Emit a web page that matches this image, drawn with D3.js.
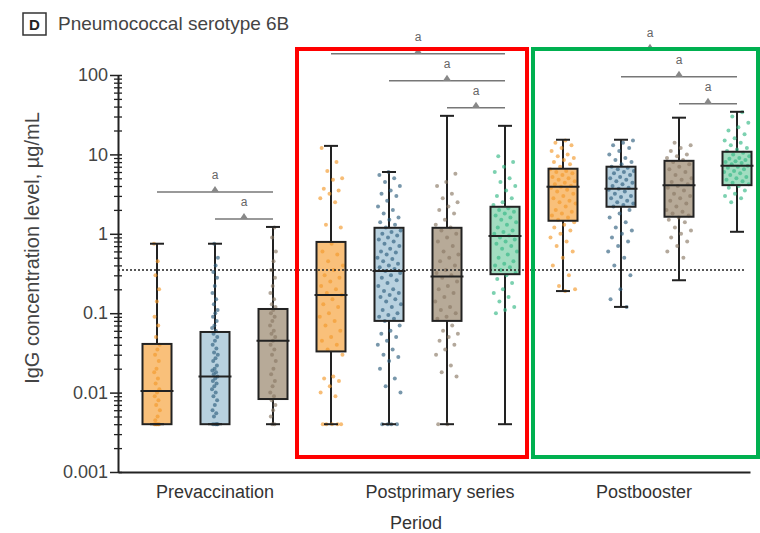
<!DOCTYPE html>
<html>
<head>
<meta charset="utf-8">
<script src="https://cdn.jsdelivr.net/npm/d3@7"></script>
<style>
  body { margin: 0; background: #fff; }
  text { font-family: "Liberation Sans", Arial, sans-serif; }
</style>
</head>
<body>
<script>
const svgWidth = 760
const svgHeight = 533

// data
const periods = ["Prevaccination", "Postprimary series", "Postbooster"]
const boxPeriod = [0, 0, 0, 1, 1, 1, 1, 2, 2, 2, 2]
const boxGroup = [0, 1, 2, 0, 1, 2, 3, 0, 1, 2, 3]
const whiskerLow = [0.004, 0.004, 0.004, 0.004, 0.004, 0.004, 0.004, 0.19, 0.12, 0.26, 1.06]
const q1 = [0.004, 0.004, 0.0083, 0.033, 0.08, 0.08, 0.31, 1.46, 2.19, 1.64, 4.1]
const medians = [0.0105, 0.016, 0.045, 0.17, 0.34, 0.29, 0.94, 3.9, 3.7, 4.1, 7.2]
const q3 = [0.041, 0.058, 0.113, 0.79, 1.19, 1.19, 2.19, 6.6, 7.0, 8.3, 10.8]
const whiskerHigh = [0.75, 0.75, 1.22, 12.8, 6.0, 30.6, 22.9, 15.3, 15.3, 29, 34.4]

const prevOrange = [0.75, 0.45, 0.3, 0.2, 0.14, 0.09, 0.07, 0.05, 0.04, 0.035, 0.03, 0.025, 0.02, 0.018, 0.015, 0.013, 0.011, 0.01, 0.009, 0.008, 0.007, 0.006, 0.005, 0.0045, 0.004, 0.004, 0.004, 0.004, 0.004]
const prevBlue = [0.75, 0.5, 0.4, 0.33, 0.28, 0.22, 0.18, 0.15, 0.13, 0.11, 0.1, 0.09, 0.08, 0.07, 0.065, 0.06, 0.055, 0.05, 0.045, 0.04, 0.036, 0.032, 0.03, 0.027, 0.025, 0.022, 0.02, 0.019, 0.018, 0.017, 0.016, 0.015, 0.014, 0.013, 0.012, 0.011, 0.01, 0.009, 0.008, 0.007, 0.006, 0.0055, 0.005, 0.004, 0.004, 0.004, 0.004]
const prevGray = [1.2, 0.9, 0.6, 0.45, 0.35, 0.28, 0.22, 0.18, 0.15, 0.13, 0.12, 0.11, 0.1, 0.09, 0.08, 0.07, 0.06, 0.055, 0.05, 0.045, 0.04, 0.035, 0.03, 0.025, 0.02, 0.017, 0.014, 0.012, 0.01, 0.009, 0.008, 0.007, 0.006, 0.005, 0.004, 0.004]
const postOrange = [12, 8, 6.2, 5, 4.8, 3.7, 3.5, 3.2, 2.8, 2.5, 1.3, 1.2, 0.75, 0.6, 0.55, 0.45, 0.4, 0.35, 0.3, 0.28, 0.25, 0.22, 0.2, 0.18, 0.17, 0.15, 0.13, 0.12, 0.1, 0.09, 0.08, 0.07, 0.06, 0.05, 0.045, 0.04, 0.035, 0.03, 0.016, 0.015, 0.014, 0.012, 0.01, 0.009, 0.004, 0.004, 0.004, 0.004, 0.004]
const postBlue = [6, 5.5, 5, 4.5, 4, 3.5, 3.2, 3, 2.6, 2.2, 2, 1.8, 1.6, 1.5, 1.4, 1.3, 1.2, 1.1, 1.05, 1, 0.95, 0.9, 0.85, 0.8, 0.75, 0.7, 0.65, 0.6, 0.58, 0.55, 0.5, 0.48, 0.45, 0.42, 0.4, 0.38, 0.36, 0.34, 0.32, 0.3, 0.28, 0.26, 0.24, 0.22, 0.2, 0.19, 0.18, 0.17, 0.16, 0.15, 0.14, 0.13, 0.12, 0.11, 0.1, 0.095, 0.09, 0.085, 0.08, 0.07, 0.06, 0.055, 0.05, 0.045, 0.04, 0.035, 0.03, 0.028, 0.025, 0.02, 0.015, 0.012, 0.01, 0.004, 0.004, 0.004, 0.004]
const postGray = [5.7, 4.5, 4, 3.2, 2.8, 2.5, 2.2, 2, 1.8, 1.5, 1.3, 1.2, 1.1, 1, 0.9, 0.8, 0.7, 0.6, 0.55, 0.5, 0.45, 0.4, 0.35, 0.32, 0.3, 0.28, 0.25, 0.22, 0.2, 0.18, 0.16, 0.14, 0.12, 0.11, 0.1, 0.09, 0.085, 0.07, 0.06, 0.055, 0.05, 0.045, 0.04, 0.035, 0.03, 0.022, 0.018, 0.016, 0.004, 0.004]
const postGreen = [9.5, 8, 7, 6, 5, 4.5, 4, 3.5, 3, 2.8, 2.5, 2.3, 2.1, 2, 1.9, 1.8, 1.7, 1.6, 1.5, 1.4, 1.3, 1.2, 1.1, 1.05, 1, 0.95, 0.9, 0.85, 0.8, 0.75, 0.7, 0.65, 0.6, 0.55, 0.5, 0.45, 0.42, 0.4, 0.38, 0.35, 0.32, 0.3, 0.27, 0.24, 0.2, 0.18, 0.16, 0.14, 0.12, 0.11, 0.1]
const boostOrange = [15, 14, 13, 12, 11, 10, 9.5, 9, 8.5, 8, 7.5, 7, 6.5, 6.2, 6, 5.8, 5.5, 5.2, 5, 4.8, 4.6, 4.4, 4.2, 4, 3.9, 3.8, 3.6, 3.4, 3.2, 3, 2.8, 2.6, 2.5, 2.4, 2.2, 2, 1.9, 1.8, 1.7, 1.6, 1.5, 1.4, 1.3, 1.2, 1.1, 1, 0.9, 0.8, 0.7, 0.6, 0.5, 0.4, 0.3, 0.22, 0.2, 0.19]
const boostBlue = [15, 14, 13, 12, 11, 10, 9, 8.5, 8, 7.5, 7, 6.8, 6.5, 6.2, 6, 5.8, 5.5, 5.2, 5, 4.8, 4.6, 4.4, 4.2, 4, 3.8, 3.7, 3.6, 3.4, 3.2, 3, 2.9, 2.8, 2.6, 2.5, 2.4, 2.3, 2.2, 2, 1.8, 1.6, 1.4, 1.2, 1.1, 1, 0.9, 0.8, 0.7, 0.6, 0.5, 0.4, 0.3, 0.2, 0.15, 0.12]
const boostGray = [14, 13, 12, 11, 10, 9.5, 9, 8.5, 8, 7.5, 7, 6.5, 6, 5.5, 5, 4.8, 4.5, 4.2, 4, 3.8, 3.5, 3.2, 3, 2.8, 2.6, 2.4, 2.2, 2, 1.9, 1.8, 1.7, 1.6, 1.5, 1.4, 1.2, 1.1, 1, 0.9, 0.8, 0.7, 0.6, 0.5]
const boostGreen = [34, 30, 25, 22, 20, 18, 16, 15, 14, 13, 12, 11.5, 11, 10.5, 10, 9.5, 9, 8.8, 8.5, 8.2, 8, 7.8, 7.5, 7.2, 7, 6.8, 6.5, 6.2, 6, 5.8, 5.5, 5.2, 5, 4.8, 4.6, 4.4, 4.2, 4, 3.8, 3.5, 3.2, 3, 2.8, 2.5]
const boxPoints = [prevOrange, prevBlue, prevGray, postOrange, postBlue, postGray, postGreen, boostOrange, boostBlue, boostGray, boostGreen]

const bracketFrom = [0, 1, 3, 4, 5, 7, 8, 9]
const bracketTo = [2, 2, 6, 6, 6, 10, 10, 10]
const bracketLabel = "a"

const threshold = 0.35
const majorTicks = [0.001, 0.01, 0.1, 1, 10, 100]
const tickLabels = ["0.001", "0.01", "0.1", "1", "10", "100"]

// styles
const fills = ["#f9c07a", "#b8d1df", "#b7aa98", "#a2ddc1"]
const dotColors = ["#f39a2c", "#2f5f7e", "#8a7a66", "#35b886"]
const jitter = [6, 24, 26]

const svg = d3.select("body").append("svg")
    .attr("width", svgWidth)
    .attr("height", svgHeight)

const y = d3.scaleLog()
    .domain([0.001, 100])
    .range([472, 75])

const x = d3.scalePoint()
    .domain(d3.range(boxPeriod.length))
    .range([157, 737])

const axisLeftX = 118
const axisRightX = 750

// title
svg.append("rect")
    .attr("x", 23).attr("y", 13).attr("width", 23).attr("height", 22)
    .attr("fill", "none").attr("stroke", "#333").attr("stroke-width", 1.5)
svg.append("text")
    .attr("x", 34.5).attr("y", 30)
    .attr("text-anchor", "middle")
    .attr("font-size", 15).attr("font-weight", "bold").attr("fill", "#222")
    .text("D")
svg.append("text")
    .attr("x", 58).attr("y", 30)
    .attr("font-size", 19).attr("fill", "#444")
    .text("Pneumococcal serotype 6B")

// y axis with crossing ticks
const minorTicks = []
majorTicks.slice(0, -1).forEach(m => d3.range(2, 10).forEach(k => minorTicks.push(m * k)))

svg.append("g")
    .attr("transform", `translate(${axisLeftX},0)`)
    .call(d3.axisLeft(y).tickValues(minorTicks).tickFormat("").tickSize(4).tickSizeOuter(0))
    .call(g => g.select(".domain").remove())
    .call(g => g.selectAll(".tick line").attr("x1", 4).attr("stroke", "#222").attr("stroke-width", 1.3))

svg.append("g")
    .attr("transform", `translate(${axisLeftX},0)`)
    .call(d3.axisLeft(y).tickValues(majorTicks).tickFormat((d, i) => tickLabels[i]).tickSize(8).tickSizeOuter(0).tickPadding(2))
    .call(g => g.select(".domain").attr("stroke", "#222").attr("stroke-width", 2))
    .call(g => g.selectAll(".tick line").attr("x1", 4).attr("stroke", "#222").attr("stroke-width", 1.5))
    .call(g => g.selectAll(".tick text").attr("font-size", 18).attr("fill", "#444")
        .attr("font-family", "\"Liberation Sans\", Arial, sans-serif"))

// x axis line
svg.append("g")
    .attr("transform", `translate(0,${y(0.001)})`)
    .call(d3.axisBottom(d3.scaleLinear().range([axisLeftX, axisRightX])).tickValues([]).tickSizeOuter(0))
    .call(g => g.select(".domain").attr("stroke", "#222").attr("stroke-width", 2))

// axis titles
const labelShift = [0, 22, -6]
periods.forEach((p, i) => {
  const slots = d3.range(boxPeriod.length).filter(j => boxPeriod[j] === i)
  svg.append("text")
      .attr("x", d3.mean(slots, j => x(j)) + labelShift[i])
      .attr("y", 498)
      .attr("text-anchor", "middle")
      .attr("font-size", 18).attr("fill", "#333")
      .text(p)
})
svg.append("text")
    .attr("x", 416).attr("y", 529)
    .attr("text-anchor", "middle")
    .attr("font-size", 18).attr("fill", "#333")
    .text("Period")
svg.append("text")
    .attr("transform", `translate(39,248) rotate(-90)`)
    .attr("text-anchor", "middle")
    .attr("font-size", 20).attr("fill", "#444")
    .text("IgG concentration level, µg/mL")

// boxes
const boxW = 29
const capW = 14
const boxG = svg.selectAll("g.box")
    .data(d3.range(boxPeriod.length))
    .enter()
    .append("g")
    .attr("class", "box")

boxG.append("line")
    .attr("x1", i => x(i)).attr("x2", i => x(i))
    .attr("y1", i => y(whiskerLow[i])).attr("y2", i => y(whiskerHigh[i]))
    .attr("stroke", "#222").attr("stroke-width", 2)

boxG.append("rect")
    .attr("x", i => x(i) - boxW / 2)
    .attr("y", i => y(q3[i]))
    .attr("width", boxW)
    .attr("height", i => y(q1[i]) - y(q3[i]))
    .attr("fill", i => fills[boxGroup[i]])

// jittered points, spread by a golden-ratio sequence so neighbours alternate sides
boxG.each(function (i) {
  const pts = boxPoints[i]
  const w = jitter[boxPeriod[i]]
  d3.select(this).selectAll("circle")
      .data(pts)
      .enter()
      .append("circle")
      .attr("cx", (d, k) => x(i) + (((k * 0.618034 + i * 0.37) % 1) - 0.5) * w)
      .attr("cy", d => y(d))
      .attr("r", 2)
      .attr("fill", dotColors[boxGroup[i]])
      .attr("opacity", 0.65)
})

boxG.append("rect")
    .attr("x", i => x(i) - boxW / 2)
    .attr("y", i => y(q3[i]))
    .attr("width", boxW)
    .attr("height", i => y(q1[i]) - y(q3[i]))
    .attr("fill", "none")
    .attr("stroke", "#222").attr("stroke-width", 2)

boxG.append("line")
    .attr("x1", i => x(i) - boxW / 2 - 2).attr("x2", i => x(i) + boxW / 2 + 2)
    .attr("y1", i => y(medians[i])).attr("y2", i => y(medians[i]))
    .attr("stroke", "#222").attr("stroke-width", 2)

boxG.selectAll("line.cap")
    .data(i => [[i, whiskerLow[i]], [i, whiskerHigh[i]]])
    .enter()
    .append("line")
    .attr("class", "cap")
    .attr("x1", d => x(d[0]) - capW / 2).attr("x2", d => x(d[0]) + capW / 2)
    .attr("y1", d => y(d[1])).attr("y2", d => y(d[1]))
    .attr("stroke", "#222").attr("stroke-width", 2)

// threshold line
svg.append("line")
    .attr("x1", axisLeftX).attr("x2", 745)
    .attr("y1", y(threshold)).attr("y2", y(threshold))
    .attr("stroke", "#222").attr("stroke-width", 1.6)
    .attr("stroke-dasharray", "2,2")

// significance brackets, stacked above the tallest whisker of each period
periods.forEach((p, pi) => {
  const idx = d3.range(bracketFrom.length)
      .filter(b => boxPeriod[bracketFrom[b]] === pi)
      .sort((a, b) => (bracketTo[a] - bracketFrom[a]) - (bracketTo[b] - bracketFrom[b]))
  const top = d3.min(d3.range(boxPeriod.length).filter(j => boxPeriod[j] === pi), j => y(whiskerHigh[j]))
  idx.forEach((b, level) => {
    const ly = top - 8 - level * 27
    const x1 = x(bracketFrom[b]), x2 = x(bracketTo[b])
    const mx = (x1 + x2) / 2
    svg.append("line")
        .attr("x1", x1).attr("x2", x2).attr("y1", ly).attr("y2", ly)
        .attr("stroke", "#777").attr("stroke-width", 1.5)
    svg.append("path")
        .attr("d", `M${mx - 4},${ly} L${mx},${ly - 6} L${mx + 4},${ly} Z`)
        .attr("fill", "#888")
    svg.append("text")
        .attr("x", mx).attr("y", ly - 13)
        .attr("text-anchor", "middle")
        .attr("font-size", 12).attr("fill", "#666")
        .text(bracketLabel)
  })
})

// highlight frames
svg.append("rect")
    .attr("x", x(3) - 34).attr("y", 49)
    .attr("width", x(6) + 22 - (x(3) - 34)).attr("height", 408)
    .attr("fill", "none").attr("stroke", "#ff0000").attr("stroke-width", 4)
svg.append("rect")
    .attr("x", x(7) - 30).attr("y", 49)
    .attr("width", x(10) + 21 - (x(7) - 30)).attr("height", 408)
    .attr("fill", "none").attr("stroke", "#00b050").attr("stroke-width", 4)
</script>
</body>
</html>
